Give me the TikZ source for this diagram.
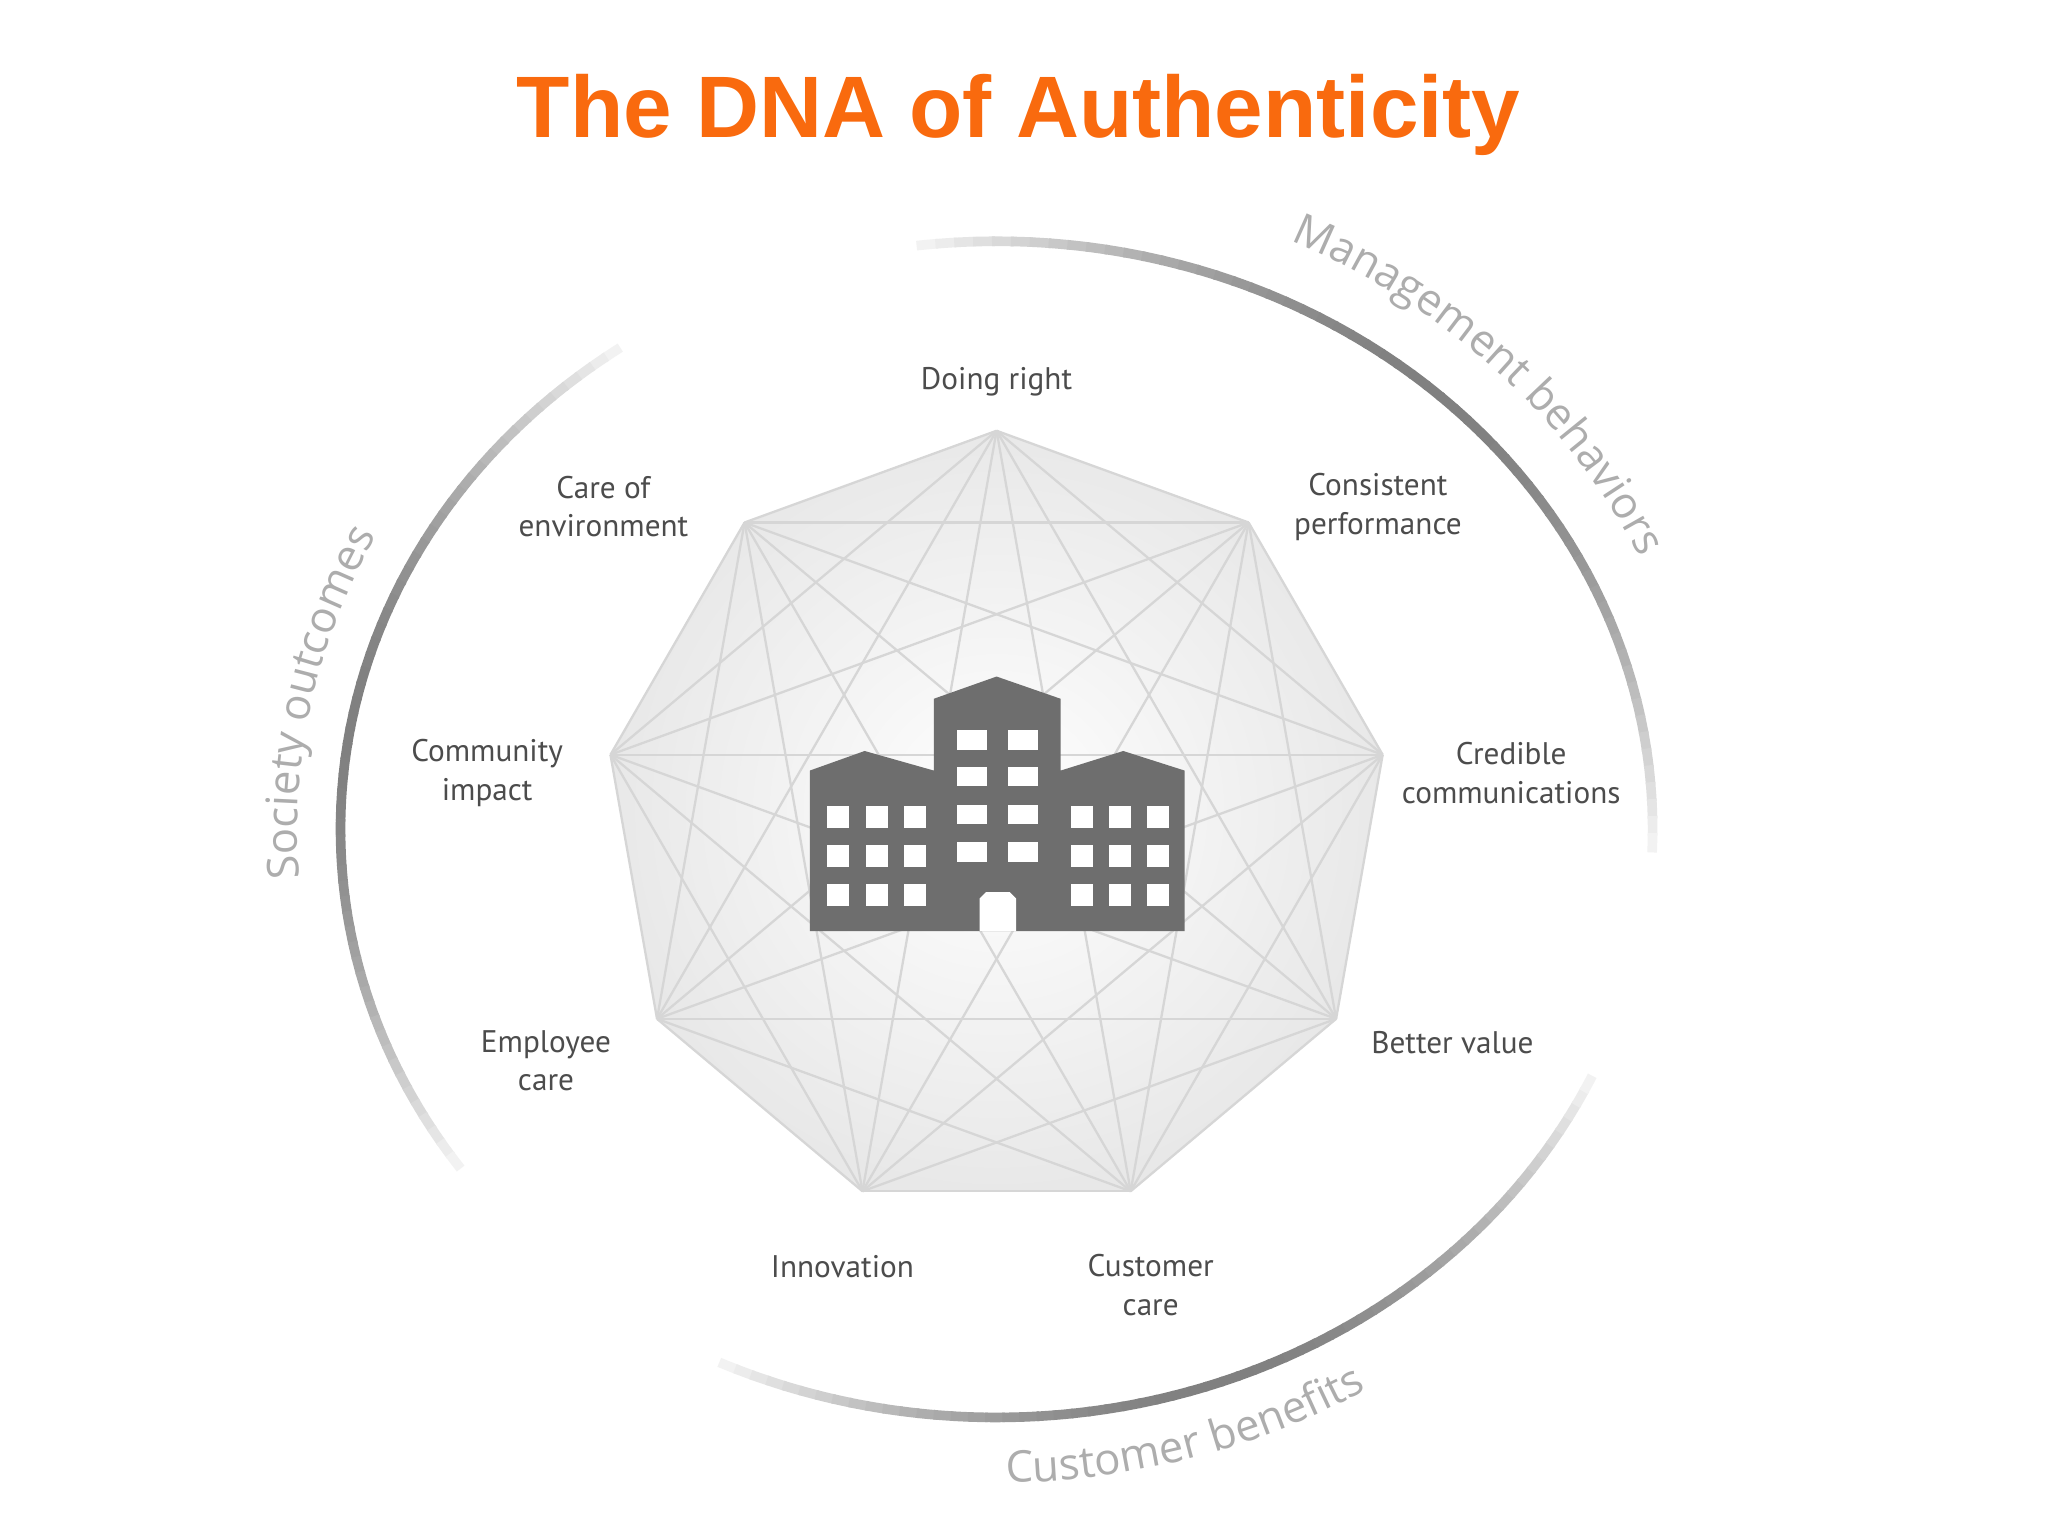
\documentclass[tikz,border=0pt]{standalone}
\usepackage{fontspec}
\setmainfont{PT Sans}
\newfontfamily\titlefont{Liberation Sans}
\newfontfamily\arcfont{Open Sans}
\usetikzlibrary{decorations.text,calc}
\definecolor{dnaorange}{HTML}{F96A0E}
\definecolor{bldg}{HTML}{6E6E6E}
\tikzset{
  lbl/.style={font=\fontsize{6.8}{8.4}\selectfont, text=black!70, align=center},
  web/.style={draw=black!16, line width=0.5pt},
}
\begin{document}
\begin{tikzpicture}[x=0.01cm,y=0.01cm]
\useasboundingbox (0,0) rectangle (1568,1176);
\fill[white] (0,0) rectangle (1568,1176);
\node[font=\titlefont\bfseries\fontsize{19}{23}\selectfont, text=dnaorange] (title) at (780,1088) {The DNA of Authenticity};
\coordinate (c) at (763,546);
\coordinate (e) at (763,541);
% nonagon
\foreach \k in {0,...,8}{\coordinate (v\k) at ($(c)+({90-40*\k}:3cm)$);}
\fill[inner color=white, outer color=black!9] (v0)--(v1)--(v2)--(v3)--(v4)--(v5)--(v6)--(v7)--(v8)--cycle;
\foreach \i in {0,...,8}{\foreach \j in {0,...,8}{\ifnum\i<\j \draw[web] (v\i)--(v\j);\fi}}
% arcs with gradient
\foreach \A/\B in {97/-2, 125/215, 245/335}{
  \foreach \i in {0,...,59}{
    \pgfmathsetmacro\aa{\A+(\B-\A)*\i/60}
    \pgfmathsetmacro\dd{(\B-\A)/60*1.15}
    \pgfmathsetmacro\p{4+46*sin(180*(\i+0.5)/60)}
    \draw[line width=2.1pt, color=black!\p!white] (e) ++(\aa:5.02cm and 4.5cm) arc[start angle=\aa, delta angle=\dd, x radius=5.02cm, y radius=4.5cm];
  }
}
% arc labels
\path[decorate, decoration={text along path, text align=center, text={|\arcfont\fontsize{9.5}{11}\selectfont\color{black!32}|Management behaviors}}]
  (e) ++(70:5.42cm and 4.95cm) arc[start angle=70, end angle=20, x radius=5.42cm, y radius=4.95cm];
\path[decorate, decoration={text along path, text align=center, text={|\arcfont\fontsize{9.5}{11}\selectfont\color{black!32}|Society outcomes}}]
  (e) ++(192:5.35cm and 4.85cm) arc[start angle=192, end angle=145, x radius=5.35cm, y radius=4.85cm];
\path[decorate, decoration={text along path, text align=center, text={|\arcfont\fontsize{9.5}{11}\selectfont\color{black!32}|Customer benefits}}]
  (e) ++(262:5.5cm and 5.0cm) arc[start angle=262, end angle=310, x radius=5.5cm, y radius=5.0cm];
% labels
\node[lbl] (l0) at (763,884) {Doing right};
\node[lbl] (l1) at (1055,788) {Consistent\\performance};
\node[lbl] (l2) at (1157,584) {Credible\\communications};
\node[lbl] (l3) at (1112,378) {Better value};
\node[lbl] (l4) at (881,192) {Customer\\care};
\node[lbl] (l5) at (645,206) {Innovation};
\node[lbl] (l6) at (418,364) {Employee\\care};
\node[lbl] (l7) at (373,584) {Community\\impact};
\node[lbl] (l8) at (462,788) {Care of\\environment};
% building
\fill[bldg] (620,463) -- (620,586) -- (662,601) -- (715,586) -- (715,641) -- (763,658) -- (812,641) -- (812,586) -- (860,601) -- (907,586) -- (907,463) -- cycle;
\foreach \x in {633,663,692,820,849,878}{\foreach \y in {617,647,677}{
  \fill[white] (\x,1176-\y) rectangle ++(17,-17);}}
\foreach \x in {733,772}{\foreach \y in {559,587,616,645}{
  \fill[white] (\x,1176-\y) rectangle ++(23,-15);}}
\fill[white] (750,463) -- (750,488) -- (755,493) -- (773,493) -- (778,488) -- (778,463) -- cycle;
\end{tikzpicture}
\end{document}
